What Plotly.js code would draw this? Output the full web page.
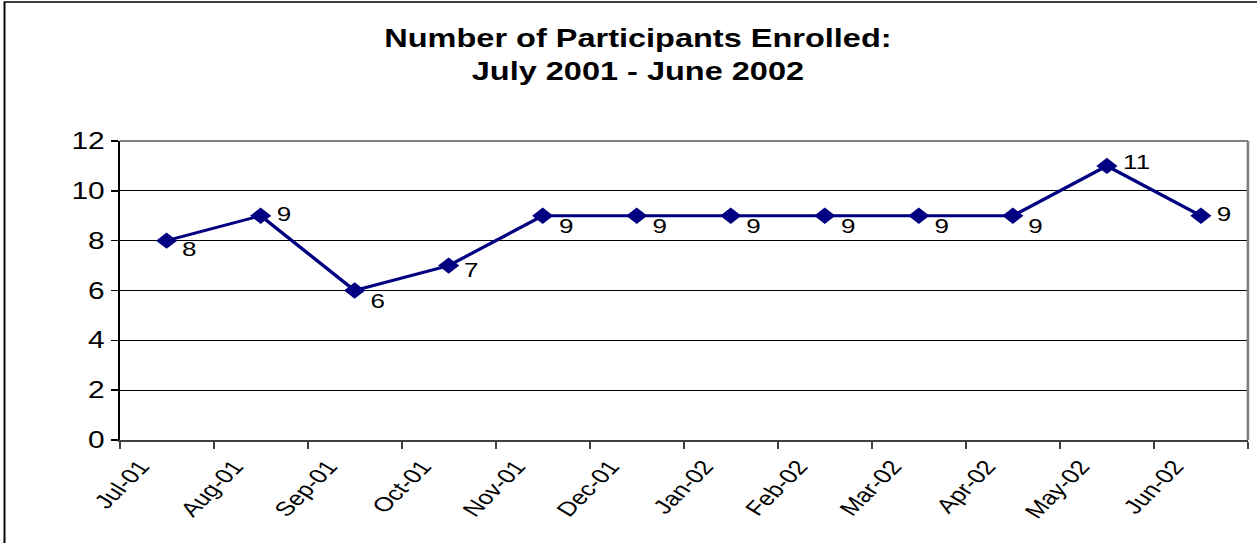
<!DOCTYPE html>
<html>
<head>
<meta charset="utf-8">
<script src="https://cdn.plot.ly/plotly-3.0.1.min.js"></script>
<style>
  html, body { margin: 0; padding: 0; background: #ffffff; overflow: hidden; }
  /* The chart is laid out narrower and widened to the page, giving the broad lettering */
  #chart { width: 967px; height: 543px; transform: scaleX(1.2999); transform-origin: 0 0; }
</style>
</head>
<body>
<div id="chart"></div>
<script>
// Monthly enrolment, July 2001 through June 2002
const months = ['Jul-01', 'Aug-01', 'Sep-01', 'Oct-01', 'Nov-01', 'Dec-01',
                'Jan-02', 'Feb-02', 'Mar-02', 'Apr-02', 'May-02', 'Jun-02'];
const participants = [8, 9, 6, 7, 9, 9, 9, 9, 9, 9, 11, 9];
const yTicks = [0, 2, 4, 6, 8, 10, 12];

const FONT = 'Arial, "Liberation Sans", sans-serif';
const NAVY = '#000080';

// Each month's point sits in the middle of its month slot; ticks mark slot edges.
const xPos = months.map((m, i) => i + 0.5);

// Vertical nudge (px) of each value label relative to its point
const labelDrop = [8, -2, 10, 4, 10, 10, 10, 10, 10, 10, -4, -2];

const trace = {
  type: 'scatter',
  mode: 'lines+markers',
  x: xPos,
  y: participants,
  line: { color: NAVY, width: 3 },
  marker: { symbol: 'diamond', size: 12.5, color: NAVY },
  hoverinfo: 'skip',
  showlegend: false
};

const annotations = participants.map((v, i) => ({
  x: xPos[i], y: v, xref: 'x', yref: 'y',
  text: String(v), showarrow: false,
  xanchor: 'left', yanchor: 'middle',
  xshift: 10, yshift: -labelDrop[i],
  font: { family: FONT, size: 20, color: '#000000' }
}));

const layout = {
  width: 967, height: 543,
  margin: { l: 92.3, r: 6.9, t: 141, b: 103 },
  paper_bgcolor: '#ffffff',
  plot_bgcolor: '#ffffff',
  font: { family: FONT, color: '#000000' },
  title: {
    text: '<b>Number of Participants Enrolled:<br>July 2001 - June 2002</b>',
    font: { family: FONT, size: 25, color: '#000000' },
    x: 0.5075, xref: 'container', xanchor: 'center',
    y: 0.913, yref: 'container', yanchor: 'top'
  },
  xaxis: {
    range: [0, 12],
    tickmode: 'array',
    tickvals: months.map((m, i) => i).concat([months.length]),
    ticktext: months.concat(['']),
    tickangle: -52,
    ticklabelshift: 16,
    ticklabelstandoff: -2,
    ticks: 'outside', ticklen: 7, tickwidth: 1.5, tickcolor: '#404040',
    showline: true, linecolor: '#404040', linewidth: 2,
    showgrid: false, zeroline: false,
    tickfont: { family: FONT, size: 20, color: '#000000' },
    fixedrange: true
  },
  yaxis: {
    range: [0, 12],
    tickmode: 'array',
    tickvals: yTicks,
    ticktext: yTicks.map(String),
    ticks: 'outside', ticklen: 5.4, tickwidth: 1.5, tickcolor: '#000000',
    showline: true, linecolor: '#000000', linewidth: 1.5,
    showgrid: true, gridcolor: '#000000', gridwidth: 1,
    zeroline: false,
    tickfont: { family: FONT, size: 23, color: '#000000' },
    fixedrange: true
  },
  shapes: [
    // plot-area frame (top and right edges)
    { type: 'line', xref: 'paper', yref: 'paper', x0: 0, x1: 1, y0: 1, y1: 1,
      line: { color: '#808080', width: 2 }, layer: 'above' },
    { type: 'line', xref: 'paper', yref: 'paper', x0: 1, x1: 1, y0: 0, y1: 1,
      line: { color: '#808080', width: 2 }, layer: 'above' },
    // chart-area border
    { type: 'rect', xref: 'paper', yref: 'paper', x0: -0.102, x1: 1.5, y0: -1, y1: 1.465,
      line: { color: '#000000', width: 1.5 }, layer: 'below' }
  ],
  annotations: annotations
};

Plotly.newPlot('chart', [trace], layout, { displayModeBar: false, staticPlot: true });
</script>
</body>
</html>
